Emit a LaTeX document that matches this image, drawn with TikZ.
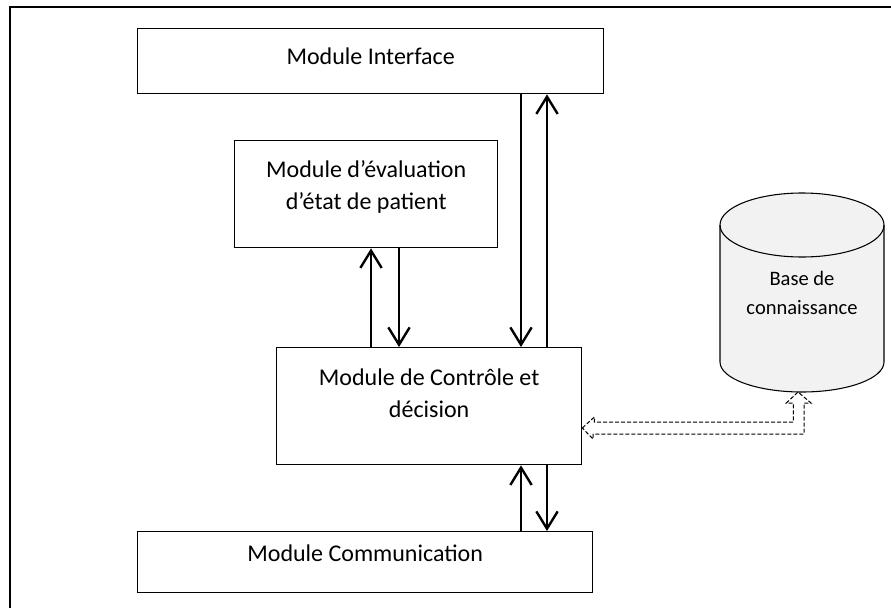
\documentclass[tikz,border=0pt]{standalone}
\usepackage{fontspec}
\setmainfont{Carlito}
\usetikzlibrary{arrows.meta, calc, positioning}
\definecolor{kbgray}{HTML}{F2F2F2}
\tikzset{
>={Straight Barb[length=13pt,width=16pt]}, % open arrow heads
x=0.75pt, y=0.75pt, % one unit = one pixel of the sketch
box/.style={draw, line width=1pt, inner sep=0pt, anchor=north west}, % module boxes
txt/.style={align=center, inner sep=0pt, font=\fontsize{18}{24}\selectfont},
flow/.style={->, line width=1.8pt}, % message arrows
dbflow/.style={draw=black, line width=0.75pt, dash pattern=on 3pt off 1.5pt},
}
\begin{document}
\begin{tikzpicture}
  \useasboundingbox (0,0) rectangle (891,608);
  \draw[line width=1.1pt] (10,0) -- (10,601) -- (891,601);

  \node[box, minimum width=349.5pt, minimum height=48.75pt] (iface) at (137,580) {};
  \node[box, minimum width=197.25pt, minimum height=80.25pt] (eval) at (234,468) {};
  \node[box, minimum width=228.75pt, minimum height=87.75pt] (ctrl) at (276,261) {};
  \node[box, minimum width=341.25pt, minimum height=45.75pt] (comm) at (137,77) {};

  \node[txt] (ifacetxt) at ([yshift=4pt]iface.center) {Module Interface};
  \node[txt] (evaltxt) at ([yshift=5.5pt]eval.center) {Module d’évaluation\\d’état de patient};
  \node[txt] (ctrltxt) at ([yshift=10pt]ctrl.center) {Module de Contrôle et\\décision};
  \node[txt] (commtxt) at ([yshift=6.4pt]comm.center) {Module Communication};

  % knowledge base cylinder
  \fill[kbgray] (720,383) -- (720,246) arc[start angle=180, end angle=360, x radius=82, y radius=30]
    -- (884,383) arc[start angle=0, end angle=180, x radius=82, y radius=32] -- cycle;
  \draw[line width=0.8pt] (802,383) ellipse[x radius=82, y radius=32];
  \draw[line width=0.8pt] (720,383) -- (720,246) arc[start angle=180, end angle=360, x radius=82, y radius=30] -- (884,383);
  \node[txt, font=\fontsize{15.4}{22}\selectfont] (kb) at (802,315) {Base de\\connaissance};
  \coordinate (kbfoot) at (798,216);

  % x positions of the vertical arrows
  \coordinate (xa) at (521,0);
  \coordinate (xb) at (547,0);
  \coordinate (xc) at (371,0);
  \coordinate (xd) at (399,0);
  \coordinate (ya) at (0,180);

  \draw[flow] (iface.south -| xa) -- (ctrl.north -| xa);
  \draw[flow] (ctrl.north -| xb) -- (iface.south -| xb);
  \draw[flow] (ctrl.north -| xc) -- (eval.south -| xc);
  \draw[flow] (eval.south -| xd) -- (ctrl.north -| xd);
  \draw[flow] (comm.north -| xa) -- (ctrl.south -| xa);
  \draw[flow] (ctrl.south -| xb) -- (comm.north -| xb);

  % hollow dashed link to the knowledge base
  \coordinate (dport) at (ctrl.east |- ya);
  \draw[dbflow] (dport) -- ++(12,11) -- ++(0,-5) -- ++(199,0) -- ++(0,19) -- ++(-7,0)
    -- (kbfoot) -- ++(13,-11) -- ++(-7,0) -- ++(0,-31) -- ++(-211,0) -- ++(0,-5) -- cycle;
\end{tikzpicture}
\end{document}
